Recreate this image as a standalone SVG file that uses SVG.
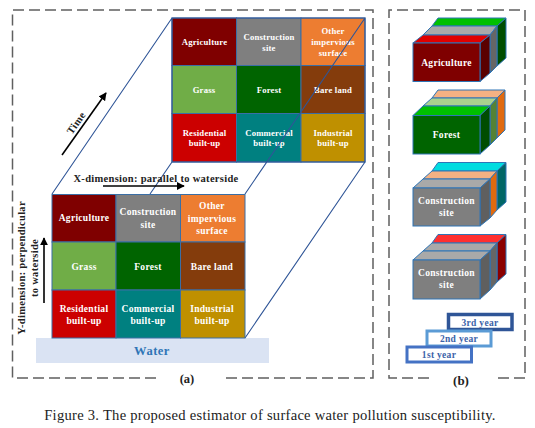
<svg xmlns="http://www.w3.org/2000/svg" width="535" height="428" viewBox="0 0 535 428">
<style>
text{font-family:"Liberation Serif","Times New Roman",serif;text-anchor:middle}
.c{fill:#fff;font-weight:bold;font-size:9.5px;letter-spacing:.3px}
.k{fill:#fff;font-weight:bold;font-size:8.7px;letter-spacing:.2px}
.cell{stroke:#3A6EA5;stroke-width:1}
.l{fill:none;stroke:#2F5597;stroke-width:1.1}
.box{fill:none;stroke:#5f5f5f;stroke-width:1.5;stroke-dasharray:11 5}
.b{font-weight:bold;fill:#222;font-size:10.5px;letter-spacing:.3px}
.a{stroke:#000;stroke-width:1.6;fill:none;marker-end:url(#ah)}
.s{stroke:#2E75B6;stroke-width:1}
.y{fill:#fff;stroke-width:3}
.yt{fill:#3B62A8;font-weight:bold;font-size:9.5px;letter-spacing:.3px}
</style>
<defs>
<marker id="ah" viewBox="0 0 10 10" refX="9" refY="5" markerWidth="5" markerHeight="5" orient="auto"><path d="M0 0L10 5L0 10z" fill="#000"/></marker>
</defs>
<rect width="535" height="428" fill="#fff"/>
<g id="frames">
<path class="box" d="M156 378H12.5V10H373V378H224"/>
<path class="box" d="M429 378H389V10H525V378H493"/>
</g>
<g id="back-grid">
<rect class="cell" x="172" y="18" width="64.500" height="47.500" fill="#7F0000"/>
<rect class="cell" x="236.500" y="18" width="64.500" height="47.500" fill="#7F7F7F"/>
<rect class="cell" x="301" y="18" width="64" height="47.500" fill="#ED7D31"/>
<rect class="cell" x="172" y="65.500" width="64.500" height="48" fill="#70AD47"/>
<rect class="cell" x="236.500" y="65.500" width="64.500" height="48" fill="#006400"/>
<rect class="cell" x="301" y="65.500" width="64" height="48" fill="#843C0C"/>
<rect class="cell" x="172" y="113.500" width="64.500" height="48.500" fill="#CC0000"/>
<rect class="cell" x="236.500" y="113.500" width="64.500" height="48.500" fill="#008080"/>
<rect class="cell" x="301" y="113.500" width="64" height="48.500" fill="#BF9000"/>
<text class="k" x="204.500" y="44.500">Agriculture</text>
<text class="k" x="269" y="39.500">Construction</text><text class="k" x="269" y="50.500">site</text>
<text class="k" x="333" y="33.500">Other</text><text class="k" x="333" y="45">impervious</text><text class="k" x="333" y="55.500">surface</text>
<text class="k" x="204" y="92.500">Grass</text>
<text class="k" x="269" y="92.500">Forest</text>
<text class="k" x="333" y="92.500">Bare land</text>
<text class="k" x="204.500" y="135.500">Residential</text><text class="k" x="204.500" y="146">built-up</text>
<text class="k" x="269" y="135.500">Commercial</text><text class="k" x="269" y="146">built-up</text>
<text class="k" x="333" y="135.500">Industrial</text><text class="k" x="333" y="146">built-up</text>
</g>
<g id="connectors">
<path class="l" d="M52 194L172 18M245 194L365 18M245 338L365 162M172 162L150 194M172 18H365V162H172Z"/>
<path class="a" d="M62 155L106 93"/>
<path class="a" d="M103 186H184"/>
<path class="a" d="M44 303V238"/>
</g>
<g id="front-grid">
<rect x="36" y="338" width="233" height="25" fill="#DAE3F3"/>
<rect class="cell" x="52" y="194.500" width="64" height="47.500" fill="#7F0000"/>
<rect class="cell" x="116" y="194.500" width="64.500" height="47.500" fill="#7F7F7F"/>
<rect class="cell" x="180.500" y="194.500" width="64.500" height="47.500" fill="#ED7D31"/>
<rect class="cell" x="52" y="242" width="64" height="48" fill="#70AD47"/>
<rect class="cell" x="116" y="242" width="64.500" height="48" fill="#006400"/>
<rect class="cell" x="180.500" y="242" width="64.500" height="48" fill="#843C0C"/>
<rect class="cell" x="52" y="290" width="64" height="48" fill="#CC0000"/>
<rect class="cell" x="116" y="290" width="64.500" height="48" fill="#008080"/>
<rect class="cell" x="180.500" y="290" width="64.500" height="48" fill="#BF9000"/>
<text class="c" x="84" y="221">Agriculture</text>
<text class="c" x="148" y="215">Construction</text><text class="c" x="148" y="227.500">site</text>
<text class="c" x="212" y="209">Other</text><text class="c" x="212" y="221.500">impervious</text><text class="c" x="212" y="233.500">surface</text>
<text class="c" x="84" y="269.500">Grass</text>
<text class="c" x="148" y="269.500">Forest</text>
<text class="c" x="212" y="269.500">Bare land</text>
<text class="c" x="84" y="311.500">Residential</text><text class="c" x="84" y="324">built-up</text>
<text class="c" x="148" y="311.500">Commercial</text><text class="c" x="148" y="324">built-up</text>
<text class="c" x="212" y="311.500">Industrial</text><text class="c" x="212" y="324">built-up</text>
<text x="152" y="355" font-size="12.500" font-weight="bold" letter-spacing=".5" fill="#2E75B6">Water</text>
</g>
<g id="labels">
<text class="b" x="156" y="182">X-dimension: parallel to waterside</text>
<text class="b" transform="translate(79,125) rotate(-55)">Time</text>
<text class="b" transform="translate(25,268) rotate(-90)">Y-dimension: perpendicular</text>
<text class="b" transform="translate(38,268) rotate(-90)">to waterside</text>
<text x="187" y="383" font-size="12.500" font-weight="bold" fill="#222">(a)</text>
<text x="461" y="385" font-size="13" font-weight="bold" fill="#222">(b)</text>
<text x="270" y="420" font-size="14.600" letter-spacing=".26" fill="#222">Figure 3. The proposed estimator of surface water pollution susceptibility.</text>
</g>
<g id="stack-agriculture">
<path class="s" d="M432 26L438 18H506L497 26Z" fill="#00C000"/>
<path class="s" d="M497 26L506 18V58L497 66Z" fill="#004D00"/>
<path class="s" d="M423 35L432 26H497L490 35Z" fill="#A9A9A9"/>
<path class="s" d="M490 35L497 26V66L490 73Z" fill="#666"/>
<path class="s" d="M413 43L423 35H490L480 43Z" fill="#E00000"/>
<path class="s" d="M480 43L490 35V73L480 81.500Z" fill="#5A0000"/>
<rect class="s" x="413" y="43" width="67" height="38.500" fill="#7F0000"/>
<text class="c" x="446.500" y="66">Agriculture</text>
</g>
<g id="stack-forest">
<path class="s" d="M432 98L438 90H505L497 98Z" fill="#F4B183"/>
<path class="s" d="M497 98L505 90V130L497 138Z" fill="#E06A10"/>
<path class="s" d="M423 106L432 98H497L490 106Z" fill="#A9D18E"/>
<path class="s" d="M490 106L497 98V138L490 145Z" fill="#548235"/>
<path class="s" d="M413 115.500L423 106H490L480 115.500Z" fill="#00C000"/>
<path class="s" d="M480 115.500L490 106V145L480 154Z" fill="#004D00"/>
<rect class="s" x="413" y="115.500" width="67" height="38.500" fill="#006400"/>
<text class="c" x="446.500" y="138">Forest</text>
</g>
<g id="stack-construction-1">
<path class="s" d="M432 171L438 162.500H506L497 171Z" fill="#00DCE0"/>
<path class="s" d="M497 171L506 162.500V202L497 210Z" fill="#006666"/>
<path class="s" d="M423 179L432 171H497L490 179Z" fill="#F4B183"/>
<path class="s" d="M490 179L497 171V210L490 218Z" fill="#E06A10"/>
<path class="s" d="M413 188L423 179H490L480 188Z" fill="#A9A9A9"/>
<path class="s" d="M480 188L490 179V218L480 226Z" fill="#5F5F5F"/>
<rect class="s" x="413" y="188" width="67" height="38" fill="#7F7F7F"/>
<text class="c" x="446.500" y="204">Construction</text><text class="c" x="446.500" y="216">site</text>
</g>
<g id="stack-construction-2">
<path class="s" d="M432 243L438 234.500H506L497 243Z" fill="#FF3030"/>
<path class="s" d="M497 243L506 234.500V274L497 282Z" fill="#8B0000"/>
<path class="s" d="M423 251L432 243H497L490 251Z" fill="#A9A9A9"/>
<path class="s" d="M490 251L497 243V282L490 290Z" fill="#666"/>
<path class="s" d="M413 260L423 251H490L480 260Z" fill="#A9A9A9"/>
<path class="s" d="M480 260L490 251V290L480 299Z" fill="#5F5F5F"/>
<rect class="s" x="413" y="260" width="67" height="39" fill="#7F7F7F"/>
<text class="c" x="446.500" y="276">Construction</text><text class="c" x="446.500" y="288">site</text>
</g>
<g id="legend-3rd"><rect class="y" x="448.500" y="314.500" width="63.500" height="15" stroke="#2F5597" style="stroke-width:3.5"/><text class="yt" x="480" y="326">3rd year</text></g>
<g id="legend-2nd"><rect class="y" x="427" y="331" width="64" height="15" stroke="#5B9BD5"/><text class="yt" x="459" y="342">2nd year</text></g>
<g id="legend-1st"><rect class="y" x="407" y="347" width="64.500" height="15" stroke="#4472C4"/><text class="yt" x="439" y="358">1st year</text></g>
</svg>
